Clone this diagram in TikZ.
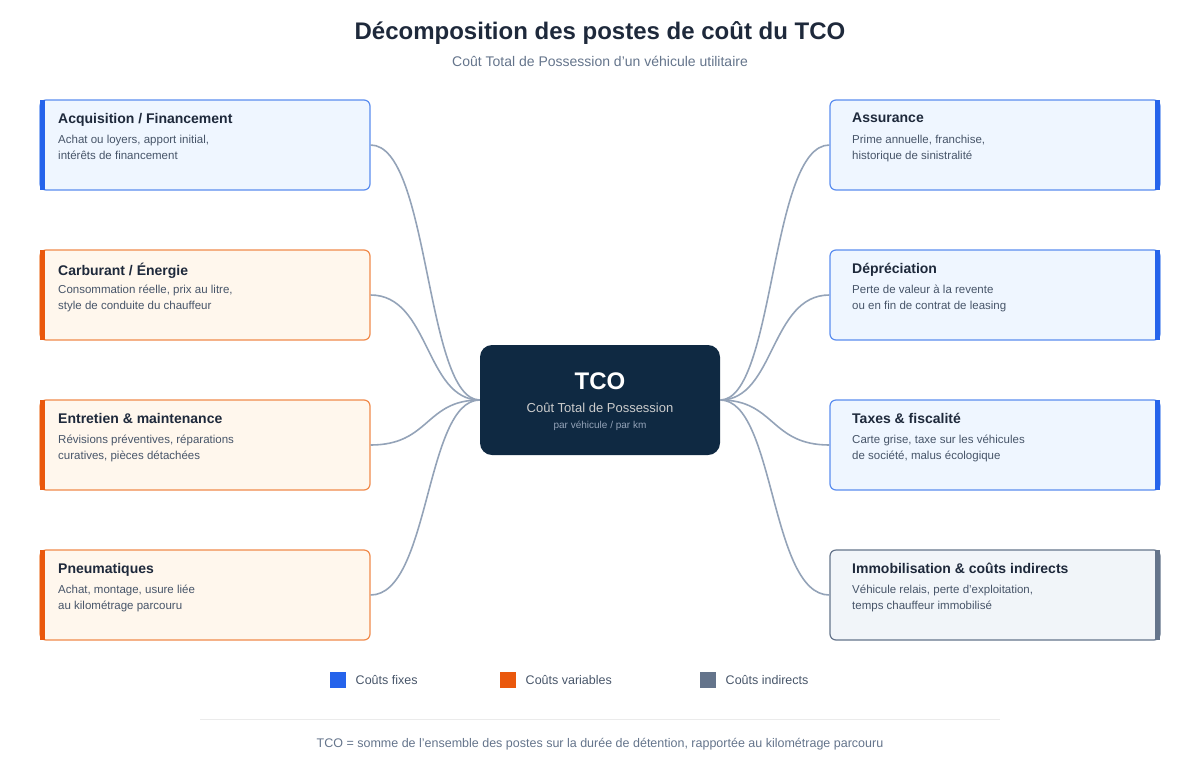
\documentclass[tikz,border=0pt]{standalone}
\usepackage{fontspec}
\setmainfont{Liberation Sans}
\usetikzlibrary{positioning}
\definecolor{ink}{HTML}{1E293B}
\definecolor{muted}{HTML}{64748B}
\definecolor{desc}{HTML}{475569}
\definecolor{navy}{HTML}{0F2942}
\definecolor{wire}{HTML}{94A3B8}
\definecolor{fixbd}{HTML}{5B8DEF}
\definecolor{fixac}{HTML}{2563EB}
\definecolor{fixbg}{HTML}{EFF6FF}
\definecolor{varbd}{HTML}{F08A4B}
\definecolor{varac}{HTML}{EA580C}
\definecolor{varbg}{HTML}{FFF7ED}
\definecolor{indbd}{HTML}{64748B}
\definecolor{indac}{HTML}{64748B}
\definecolor{indbg}{HTML}{F1F5F9}

\begin{document}
\begin{tikzpicture}[
  x=1pt, y=-1pt,
  box/.style={draw, rounded corners=6pt, line width=1.2pt,
    minimum width=330pt, minimum height=90pt},
  head/.style={anchor=north west, inner sep=0pt, text=ink,
    font=\fontsize{14}{16}\selectfont\bfseries},
  body/.style={anchor=north west, inner sep=0pt, text=desc, align=left,
    font=\fontsize{11.5}{16}\selectfont},
  link/.style={draw=wire, line width=1.6pt},
  chip/.style={minimum size=16pt, inner sep=0pt},
  legtext/.style={anchor=west, text=desc, font=\fontsize{12.5}{14}\selectfont}
]
\useasboundingbox (0,0) rectangle (1200,780);

% --- Title ---
\node[text=ink, font=\fontsize{24}{28}\selectfont\bfseries] (title) at (600,33)
  {Décomposition des postes de coût du TCO};
\node[text=muted, font=\fontsize{14}{16}\selectfont] (subtitle) at (600,61)
  {Coût Total de Possession d'un véhicule utilitaire};

% --- Centre ---
\node[fill=navy, rounded corners=12pt, minimum width=240pt, minimum height=110pt]
  (tco) at (600,400) {};
\node[text=white, font=\fontsize{24}{28}\selectfont\bfseries] (tcot) at (600,381) {TCO};
\node[text=black!20, font=\fontsize{13}{15}\selectfont] (tcos) at (600,408) {Coût Total de Possession};
\node[text=wire, font=\fontsize{10}{12}\selectfont] (tcou) at (600,426) {par véhicule / par km};

% --- Left boxes ---
\foreach \y/\nm/\kind/\hd/\tx in {
  145/acq/fix/{Acquisition / Financement}/{Achat ou loyers, apport initial,\\intérêts de financement},
  295/carb/var/{Carburant / Énergie}/{Consommation réelle, prix au litre,\\style de conduite du chauffeur},
  445/entr/var/{Entretien \& maintenance}/{Révisions préventives, réparations\\curatives, pièces détachées},
  595/pneu/var/{Pneumatiques}/{Achat, montage, usure liée\\au kilométrage parcouru}}{
  \node[box, draw=\kind bd, fill=\kind bg] (\nm) at (205,\y) {};
  \fill[\kind ac] (40,\y-45) rectangle (45,\y+45);
  \node[head] (\nm h) at (58,\y-32) {\hd};
  \node[body] (\nm b) at (58,\y-10) {\tx};
  \draw[link] (\nm.east) .. controls (430,\y) and (425,400) .. (tco.west);
}

% --- Right boxes ---
\foreach \y/\nm/\kind/\hd/\tx in {
  145/assu/fix/{Assurance}/{Prime annuelle, franchise,\\historique de sinistralité},
  295/depr/fix/{Dépréciation}/{Perte de valeur à la revente\\ou en fin de contrat de leasing},
  445/taxe/fix/{Taxes \& fiscalité}/{Carte grise, taxe sur les véhicules\\de société, malus écologique},
  595/immo/ind/{Immobilisation \& coûts indirects}/{Véhicule relais, perte d'exploitation,\\temps chauffeur immobilisé}}{
  \node[box, draw=\kind bd, fill=\kind bg] (\nm) at (995,\y) {};
  \fill[\kind ac] (1155,\y-45) rectangle (1160,\y+45);
  \node[head] (\nm h) at (852,\y-32) {\hd};
  \node[body] (\nm b) at (852,\y-10) {\tx};
  \draw[link] (\nm.west) .. controls (770,\y) and (775,400) .. (tco.east);
}

% --- Legend ---
\node[chip, fill=fixac] (lf) at (338,680) {};
\node[legtext, right=6pt of lf] {Coûts fixes};
\node[chip, fill=varac] (lv) at (508,680) {};
\node[legtext, right=6pt of lv] {Coûts variables};
\node[chip, fill=indac] (li) at (708,680) {};
\node[legtext, right=6pt of li] {Coûts indirects};

\draw[black!8, line width=1pt] (200,719) -- (1000,719);
\node[text=muted, font=\fontsize{12.5}{14}\selectfont] (foot) at (600,744)
  {TCO = somme de l'ensemble des postes sur la durée de détention, rapportée au kilométrage parcouru};
\end{tikzpicture}
\end{document}
